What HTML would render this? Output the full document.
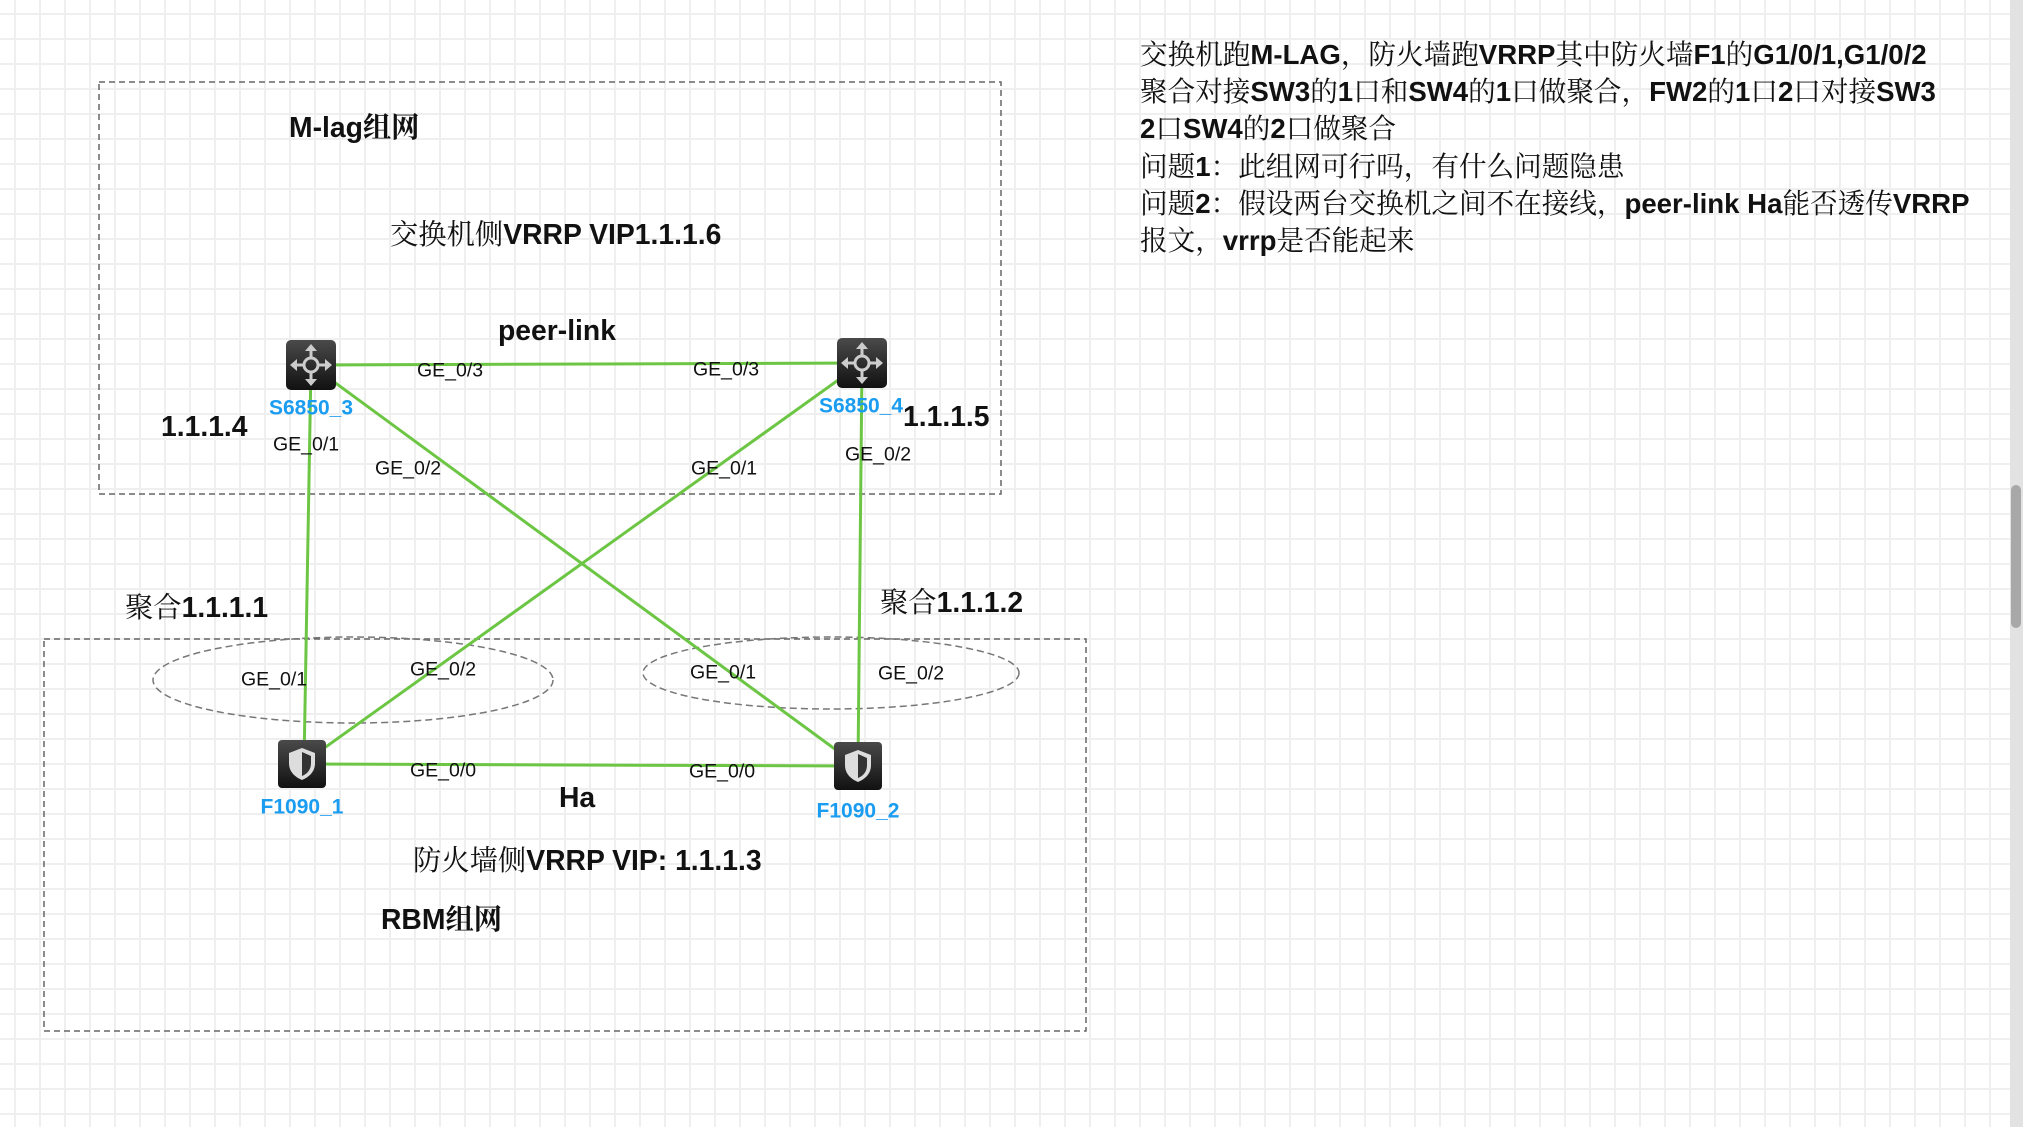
<!DOCTYPE html>
<html><head><meta charset="utf-8"><style>
html,body{margin:0;padding:0}
body{width:2023px;height:1127px;position:relative;overflow:hidden;background-color:#fff;
background-image:linear-gradient(#efefef 2px,transparent 2px),linear-gradient(90deg,#efefef 2px,transparent 2px);
background-size:25px 25px;background-position:14px 13px;font-family:"Liberation Sans","Noto Serif CJK SC",serif}
.t{position:absolute;white-space:nowrap;font-size:28.3px;color:#111;transform:translateY(-50%);line-height:1}
.b{font-weight:bold}
.g{position:absolute;white-space:nowrap;font-size:19.5px;color:#111;transform:translateY(-50%);line-height:1;font-family:"Liberation Sans",sans-serif}
.d{position:absolute;white-space:nowrap;font-size:21px;color:#1a9cf0;font-weight:bold;transform:translate(-50%,-50%);line-height:1;font-family:"Liberation Sans",sans-serif}
.r{position:absolute;left:1140px;top:36px;font-size:27.6px;line-height:37.2px;color:#111;white-space:nowrap}
.sb{position:absolute;left:2010px;top:0;width:13px;height:1127px;background:#e2e2e2}
.th{position:absolute;left:2011px;top:485px;width:10px;height:143px;background:#a8a8a8;border-radius:5px}
</style></head><body>
<svg width="2023" height="1127" style="position:absolute;left:0;top:0">
<rect x="99" y="82" width="902" height="412" fill="none" stroke="#666" stroke-width="1.5" stroke-dasharray="6 4"/>
<rect x="44" y="639" width="1042" height="392" fill="none" stroke="#666" stroke-width="1.5" stroke-dasharray="6 4"/>
<ellipse cx="353" cy="680" rx="200" ry="43" fill="none" stroke="#777" stroke-width="1.5" stroke-dasharray="7 4"/>
<ellipse cx="831" cy="673" rx="188" ry="36" fill="none" stroke="#777" stroke-width="1.5" stroke-dasharray="7 4"/>
<g stroke="#6cc644" stroke-width="3">
<line x1="311" y1="365" x2="862" y2="363"/>
<line x1="311" y1="365" x2="304" y2="764"/>
<line x1="311" y1="365" x2="858" y2="766"/>
<line x1="862" y1="363" x2="302" y2="764"/>
<line x1="862" y1="363" x2="858" y2="766"/>
<line x1="302" y1="764" x2="858" y2="766"/>
</g>
<defs><linearGradient id="k" x1="0" y1="0" x2="0" y2="1"><stop offset="0" stop-color="#4a4a4a"/><stop offset="1" stop-color="#111"/></linearGradient></defs>
<g id="sw"><rect x="286" y="340" width="50" height="50" rx="5" fill="url(#k)"/>
<g stroke="#ccc" stroke-width="3" fill="none"><circle cx="311" cy="365" r="7"/><line x1="311" y1="348" x2="311" y2="358"/><line x1="311" y1="372" x2="311" y2="382"/><line x1="294" y1="365" x2="304" y2="365"/><line x1="318" y1="365" x2="328" y2="365"/></g>
<g fill="#ccc"><path d="M311 344l-6 7h12z"/><path d="M311 386l-6 -7h12z"/><path d="M290 365l7 -6v12z"/><path d="M332 365l-7 -6v12z"/></g></g>
<use href="#sw" x="551" y="-2"/>
<g id="fw"><rect x="278" y="740" width="48" height="48" rx="4" fill="url(#k)"/>
<path d="M302 748l13 5v10c0 9-6 14-13 17c-7-3-13-8-13-17v-10z" fill="#ddd"/>
<path d="M302 752l9 4v7c0 7-4 11-9 13z" fill="#333"/></g>
<use href="#fw" x="556" y="2"/>
</svg>
<div class="t b" style="left:289px;top:127px">M-lag组网</div>
<div class="t" style="left:390px;top:234px">交换机侧<b>VRRP VIP1.1.1.6</b></div>
<div class="t b" style="left:498px;top:330px">peer-link</div>
<div class="t b" style="left:161px;top:426px">1.1.1.4</div>
<div class="t b" style="left:903px;top:416px">1.1.1.5</div>
<div class="t" style="left:125px;top:607px">聚合<b>1.1.1.1</b></div>
<div class="t" style="left:880px;top:602px">聚合<b>1.1.1.2</b></div>
<div class="t b" style="left:559px;top:797px">Ha</div>
<div class="t" style="left:413px;top:860px">防火墙侧<b>VRRP VIP: 1.1.1.3</b></div>
<div class="t b" style="left:381px;top:919px">RBM组网</div>
<div class="d" style="left:311px;top:408px">S6850_3</div>
<div class="d" style="left:861px;top:406px">S6850_4</div>
<div class="d" style="left:302px;top:807px">F1090_1</div>
<div class="d" style="left:858px;top:811px">F1090_2</div>
<div class="g" style="left:417px;top:371px">GE_0/3</div>
<div class="g" style="left:693px;top:370px">GE_0/3</div>
<div class="g" style="left:273px;top:445px">GE_0/1</div>
<div class="g" style="left:375px;top:469px">GE_0/2</div>
<div class="g" style="left:691px;top:469px">GE_0/1</div>
<div class="g" style="left:845px;top:455px">GE_0/2</div>
<div class="g" style="left:241px;top:680px">GE_0/1</div>
<div class="g" style="left:410px;top:670px">GE_0/2</div>
<div class="g" style="left:690px;top:673px">GE_0/1</div>
<div class="g" style="left:878px;top:674px">GE_0/2</div>
<div class="g" style="left:410px;top:771px">GE_0/0</div>
<div class="g" style="left:689px;top:772px">GE_0/0</div>
<div class="r">交换机跑<b>M-LAG</b>，防火墙跑<b>VRRP</b>其中防火墙<b>F1</b>的<b>G1/0/1,G1/0/2</b><br>聚合对接<b>SW3</b>的<b>1</b>口和<b>SW4</b>的<b>1</b>口做聚合，<b>FW2</b>的<b>1</b>口<b>2</b>口对接<b>SW3</b><br><b>2</b>口<b>SW4</b>的<b>2</b>口做聚合<br>问题<b>1</b>：此组网可行吗，有什么问题隐患<br>问题<b>2</b>：假设两台交换机之间不在接线，<b>peer-link Ha</b>能否透传<b>VRRP</b><br>报文，<b>vrrp</b>是否能起来</div>
<div class="sb"></div><div class="th"></div>
</body></html>
